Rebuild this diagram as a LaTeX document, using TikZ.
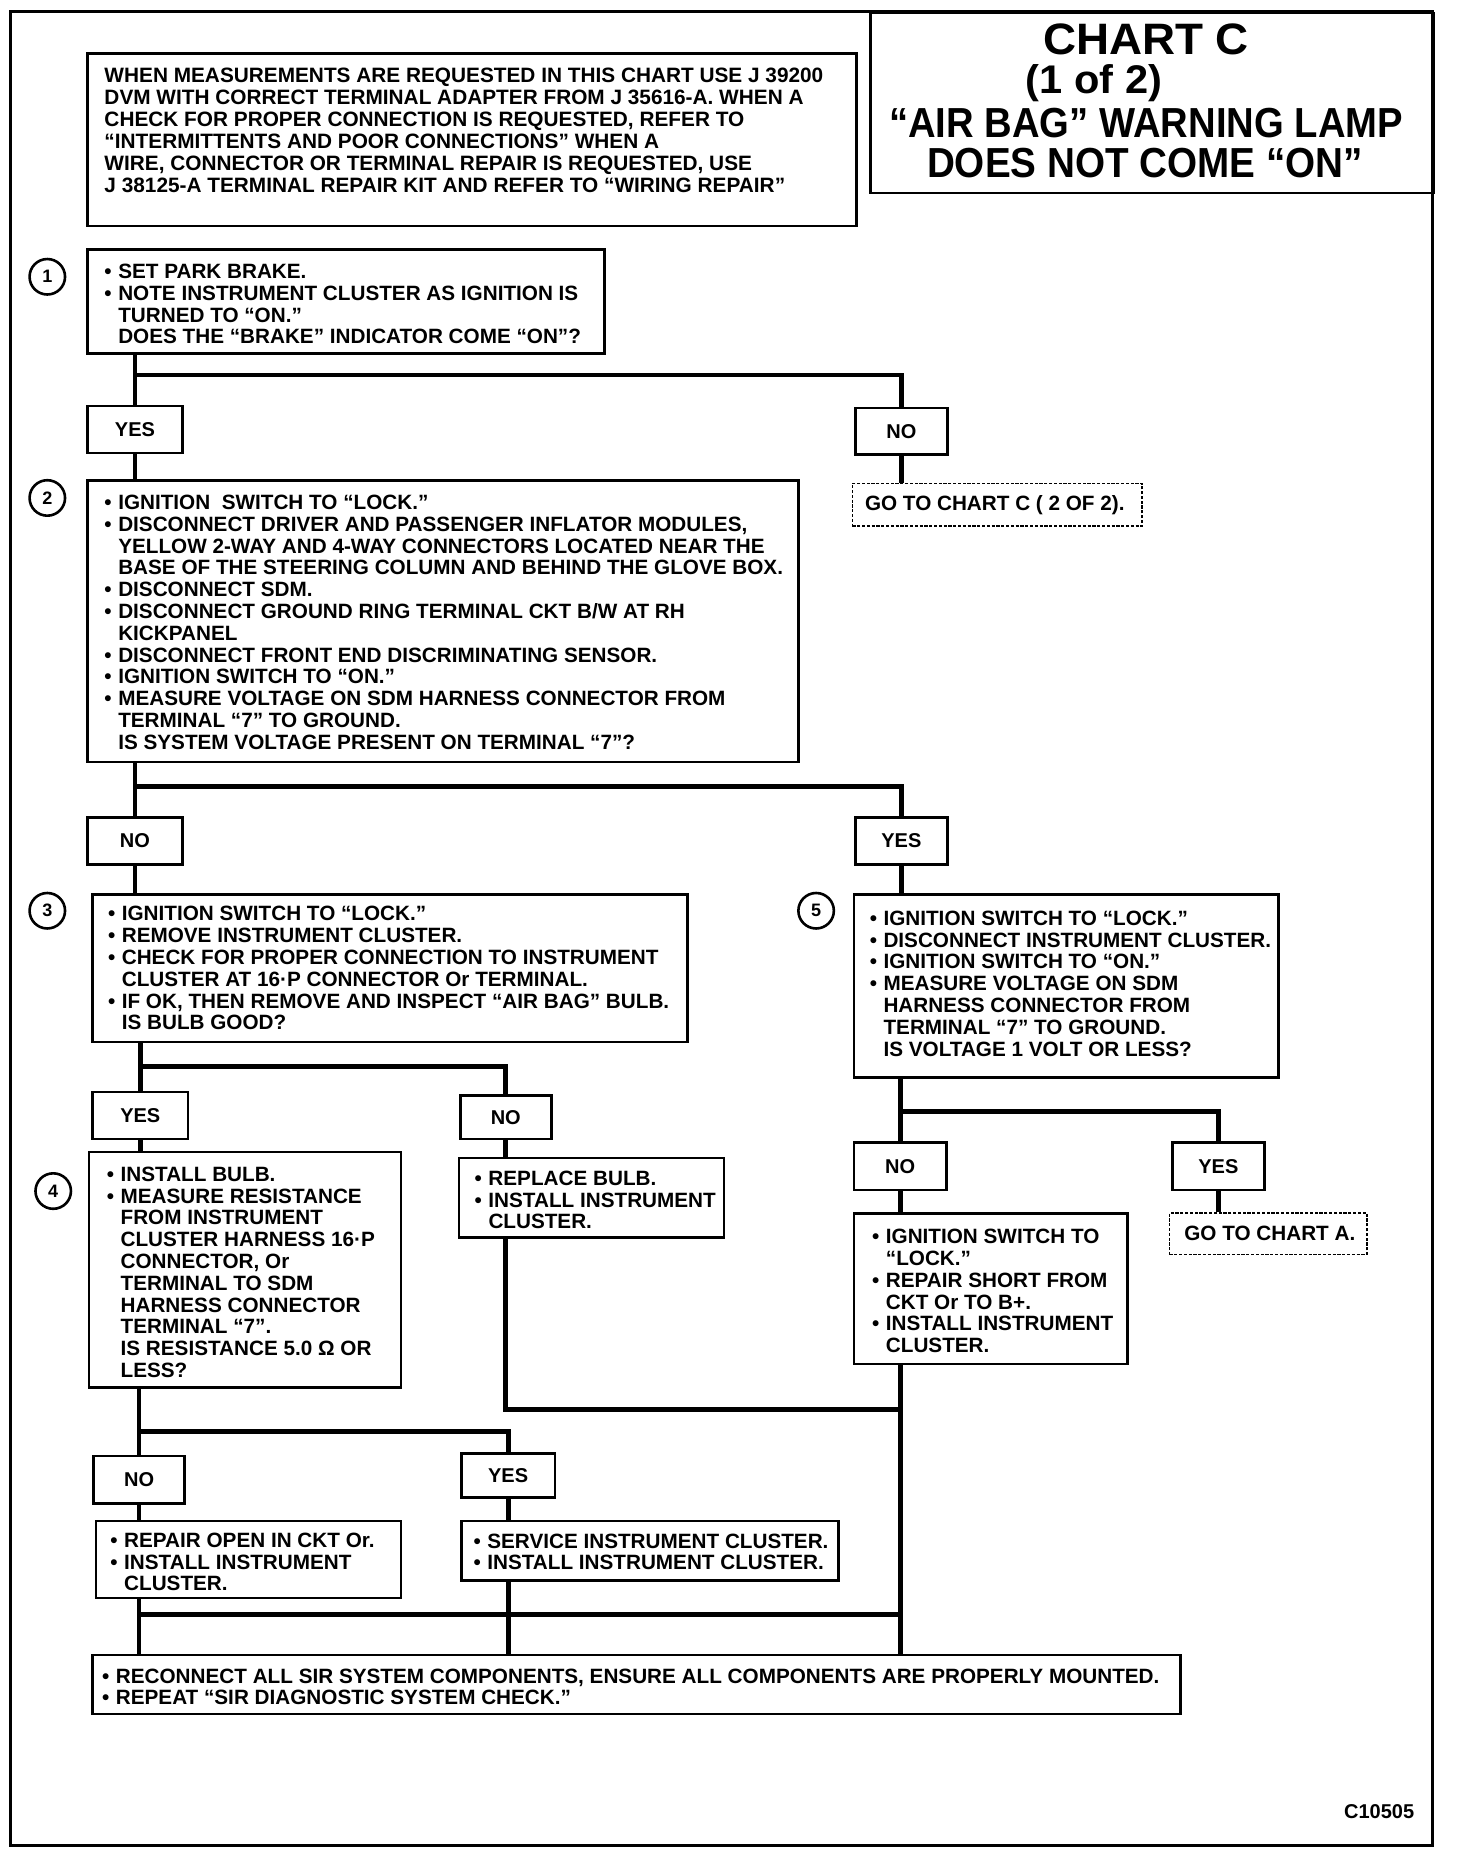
\documentclass[tikz,border=0pt]{standalone}
\usepackage{fontspec}
\setmainfont{Liberation Sans}
\usepackage{graphicx}
\newcommand\U{0.591389pt}
\newcommand\bl{\makebox[6.9pt][l]{\textbullet}}
\newcommand\ii{\hspace*{6.9pt}}
\tikzset{
 frame/.style={draw, line width=1.4pt},
 box/.style={draw, line width=1.3pt, inner sep=0pt},
 lbl/.style={draw, line width=1.3pt, inner sep=0pt, font=\bfseries\fontsize{10}{11}\selectfont},
 dbox/.style={draw, line width=0.8pt, dash pattern=on 1.6pt off 0.8pt, inner sep=0pt},
 txt/.style={align=left, inner sep=0pt, font=\bfseries\fontsize{10.35}{10.9}\selectfont},
 num/.style={circle, draw, line width=1.3pt, minimum size=30*\U, inner sep=0pt, font=\bfseries\fontsize{9}{9}\selectfont},
 conn/.style={line width=2.4pt},
 ttl/.style={inner sep=0pt, font=\bfseries\fontsize{21}{21}\selectfont},
}
\newcommand\mkbox[6]{\node[#6, anchor=north west, minimum width={(#4-#2)*\U}, minimum height={(#5-#3)*\U}] (#1) at (#2,#3) {};}
\newcommand\mklbl[6]{\node[lbl, anchor=north west, minimum width={(#4-#2)*\U}, minimum height={(#5-#3)*\U}] (#1) at (#2,#3) {#6};}
\begin{document}
\begin{tikzpicture}[x=0.591389pt, y=-0.591389pt]
\useasboundingbox (0,0) rectangle (1231,1567.5);
\draw[frame] (9,10) rectangle (1211,1560);

% title
\mkbox{tbox}{735}{10}{1211}{162}{box}
\node[ttl, font=\bfseries\fontsize{22}{22}\selectfont] (ti1) at (969,33) {\scalebox{1.04}[1]{CHART C}};
\node[ttl, font=\bfseries\fontsize{20}{20}\selectfont] (ti2) at (925,70) {\scalebox{1.04}[1]{(1 of 2)}};
\node[ttl] (ti3) at (969,104) {\scalebox{0.91}[1]{“AIR BAG” WARNING LAMP}};
\node[ttl] (ti4) at (968,138) {\scalebox{0.92}[1]{DOES NOT COME “ON”}};

% info box
\mkbox{info}{73}{44}{723}{190}{box}
\node[txt, anchor=west, font=\bfseries\fontsize{10.4}{11}\selectfont] (infot) at ([xshift=15*\U, yshift=7.5*\U]info.west) {WHEN MEASUREMENTS ARE REQUESTED IN THIS CHART USE J 39200\\
DVM WITH CORRECT TERMINAL ADAPTER FROM J 35616-A. WHEN A\\
CHECK FOR PROPER CONNECTION IS REQUESTED, REFER TO\\
“INTERMITTENTS AND POOR CONNECTIONS” WHEN A\\
WIRE, CONNECTOR OR TERMINAL REPAIR IS REQUESTED, USE\\
J 38125-A TERMINAL REPAIR KIT AND REFER TO “WIRING REPAIR”};

% step 1
\node[num] (c1) at (40,234) {1};
\mkbox{b1}{73}{210}{510}{298}{box}
\node[txt, anchor=west] (b1t) at ([xshift=15*\U, yshift=-2*\U]b1.west) {\bl SET PARK BRAKE.\\
\bl NOTE INSTRUMENT CLUSTER AS IGNITION IS\\
\ii TURNED TO “ON.”\\
\ii DOES THE “BRAKE” INDICATOR COME “ON”?};

\mklbl{yes1}{73}{342}{153}{382}{YES}
\mklbl{no1}{722}{344}{800}{383}{NO}
\node[dbox, anchor=north west, minimum width={(965-720)*\U}, minimum height={(444-408)*\U}] (goc) at (720,408) {};
\node[txt, anchor=west] (goct) at ([xshift=11*\U]goc.west) {GO TO CHART C ( 2 OF 2).};

% step 2
\node[num] (c2) at (40,421) {2};
\mkbox{b2}{73}{405}{674}{643}{box}
\node[txt, anchor=west] (b2t) at ([xshift=15*\U, yshift=-1*\U]b2.west) {\bl IGNITION~ SWITCH TO “LOCK.”\\
\bl DISCONNECT DRIVER AND PASSENGER INFLATOR MODULES,\\
\ii YELLOW 2-WAY AND 4-WAY CONNECTORS LOCATED NEAR THE\\
\ii BASE OF THE STEERING COLUMN AND BEHIND THE GLOVE BOX.\\
\bl DISCONNECT SDM.\\
\bl DISCONNECT GROUND RING TERMINAL CKT B/W AT RH\\
\ii KICKPANEL\\
\bl DISCONNECT FRONT END DISCRIMINATING SENSOR.\\
\bl IGNITION SWITCH TO “ON.”\\
\bl MEASURE VOLTAGE ON SDM HARNESS CONNECTOR FROM\\
\ii TERMINAL “7” TO GROUND.\\
\ii IS SYSTEM VOLTAGE PRESENT ON TERMINAL “7”?};

\mklbl{no2}{73}{690}{153}{730}{NO}
\mklbl{yes2}{722}{690}{800}{730}{YES}

% step 3
\node[num] (c3) at (40,770) {3};
\mkbox{b3}{77}{755}{580}{880}{box}
\node[txt, anchor=west] (b3t) at ([xshift=14*\U]b3.west) {\bl IGNITION SWITCH TO “LOCK.”\\
\bl REMOVE INSTRUMENT CLUSTER.\\
\bl CHECK FOR PROPER CONNECTION TO INSTRUMENT\\
\ii CLUSTER AT 16·P CONNECTOR Or TERMINAL.\\
\bl IF OK, THEN REMOVE AND INSPECT “AIR BAG” BULB.\\
\ii IS BULB GOOD?};

% step 5
\node[num] (c5) at (690,770) {5};
\mkbox{b5}{721}{755}{1080}{910}{box}
\node[txt, anchor=west] (b5t) at ([xshift=14*\U, yshift=2*\U]b5.west) {\bl IGNITION SWITCH TO “LOCK.”\\
\bl DISCONNECT INSTRUMENT CLUSTER.\\
\bl IGNITION SWITCH TO “ON.”\\
\bl MEASURE VOLTAGE ON SDM\\
\ii HARNESS CONNECTOR FROM\\
\ii TERMINAL “7” TO GROUND.\\
\ii IS VOLTAGE 1 VOLT OR LESS?};

\mklbl{yes3}{77}{922}{158}{962}{YES}
\mklbl{no3}{388}{925}{465}{962}{NO}

% step 4
\node[num] (c4) at (45,1007) {4};
\mkbox{b4}{74}{973}{338}{1172}{box}
\node[txt, anchor=west] (b4t) at ([xshift=16*\U, yshift=-2*\U]b4.west) {\bl INSTALL BULB.\\
\bl MEASURE RESISTANCE\\
\ii FROM INSTRUMENT\\
\ii CLUSTER HARNESS 16·P\\
\ii CONNECTOR, Or\\
\ii TERMINAL TO SDM\\
\ii HARNESS CONNECTOR\\
\ii TERMINAL “7”.\\
\ii IS RESISTANCE 5.0 Ω OR\\
\ii LESS?};

\mkbox{rb}{387}{978}{611}{1045}{box}
\node[txt, anchor=west] (rbt) at ([xshift=14*\U, yshift=-2*\U]rb.west) {\bl REPLACE BULB.\\
\bl INSTALL INSTRUMENT\\
\ii CLUSTER.};

\mklbl{no5}{721}{965}{799}{1005}{NO}
\mklbl{yes5}{990}{965}{1068}{1005}{YES}
\node[dbox, anchor=north west, minimum width={(1155-988)*\U}, minimum height={(1060-1025)*\U}] (goa) at (988,1025) {};
\node[txt, anchor=west] (goat) at ([xshift=13*\U]goa.west) {GO TO CHART A.};

\mkbox{is}{721}{1025}{952}{1152}{box}
\node[txt, anchor=west] (ist) at ([xshift=16*\U, yshift=-2*\U]is.west) {\bl IGNITION SWITCH TO\\
\ii “LOCK.”\\
\bl REPAIR SHORT FROM\\
\ii CKT Or TO B+.\\
\bl INSTALL INSTRUMENT\\
\ii CLUSTER.};

\mklbl{no4}{78}{1230}{155}{1270}{NO}
\mklbl{yes4}{389}{1228}{468}{1265}{YES}

\mkbox{ro}{80}{1285}{338}{1350}{box}
\node[txt, anchor=west] (rot) at ([xshift=13*\U, yshift=-2*\U]ro.west) {\bl REPAIR OPEN IN CKT Or.\\
\bl INSTALL INSTRUMENT\\
\ii CLUSTER.};

\mkbox{sv}{389}{1285}{708}{1335}{box}
\node[txt, anchor=west] (svt) at ([xshift=11*\U, yshift=-1*\U]sv.west) {\bl SERVICE INSTRUMENT CLUSTER.\\
\bl INSTALL INSTRUMENT CLUSTER.};

\mkbox{fin}{77}{1398}{997}{1448}{box}
\node[txt, anchor=west] (fint) at ([xshift=9*\U, yshift=-2*\U]fin.west) {\bl RECONNECT ALL SIR SYSTEM COMPONENTS, ENSURE ALL COMPONENTS ARE PROPERLY MOUNTED.\\
\bl REPEAT “SIR DIAGNOSTIC SYSTEM CHECK.”};

\node[anchor=east, inner sep=0pt, font=\bfseries\fontsize{10}{10}\selectfont] (code) at (1196,1532) {C10505};

% junction coordinates
\coordinate (j1) at (0,317);
\coordinate (j2) at (0,665);
\coordinate (j3) at (0,902);
\coordinate (j5) at (0,940);
\coordinate (j6) at (0,1192);
\coordinate (j4) at (0,1210);
\coordinate (j7) at (0,1365);

% connectors
\draw[conn] (yes1.north |- b1.south) -- (yes1.north);
\draw[conn] (yes1.north |- j1) -| (no1.north);
\draw[conn] (yes1.south) -- (yes1.south |- b2.north);
\draw[conn] (no1.south) -- (no1.south |- goc.north);

\draw[conn] (no2.north |- b2.south) -- (no2.north);
\draw[conn] (no2.north |- j2) -| (yes2.north);
\draw[conn] (no2.south) -- (no2.south |- b3.north);
\draw[conn] (yes2.south) -- (yes2.south |- b5.north);

\draw[conn] (yes3.north |- b3.south) -- (yes3.north);
\draw[conn] (yes3.north |- j3) -| (no3.north);
\draw[conn] (yes3.south) -- (yes3.south |- b4.north);
\draw[conn] (no3.south) -- (no3.south |- rb.north);

\draw[conn] (no5.north |- b5.south) -- (no5.north);
\draw[conn] (no5.north |- j5) -| (yes5.north);
\draw[conn] (no5.south) -- (no5.south |- is.north);
\draw[conn] (yes5.south) -- (yes5.south |- goa.north);

\draw[conn] (no4.north |- b4.south) -- (no4.north);
\draw[conn] (no4.north |- j4) -| (yes4.north);
\draw[conn] (no4.south) -- (no4.south |- ro.north);
\draw[conn] (yes4.south) -- (yes4.south |- sv.north);

\draw[conn] (no3.south |- rb.south) |- (j6 -| no5.south);
\draw[conn] (no5.south |- is.south) -- (no5.south |- fin.north);
\draw[conn] (no4.south |- ro.south) -- (no4.south |- fin.north);
\draw[conn] (yes4.south |- sv.south) -- (yes4.south |- fin.north);
\draw[conn] (no4.south |- j7) -- (j7 -| no5.south);
\end{tikzpicture}
\end{document}
